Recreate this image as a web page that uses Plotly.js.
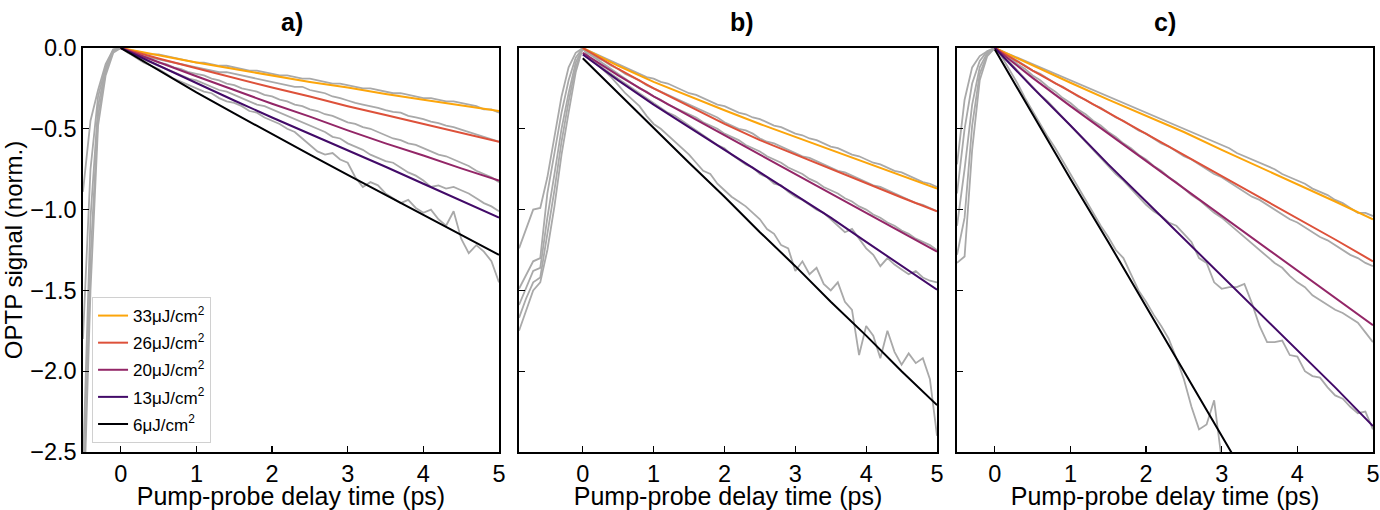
<!DOCTYPE html>
<html>
<head>
<meta charset="utf-8">
<script src="https://cdn.plot.ly/plotly-3.0.1.min.js"></script>
<style>
  html, body { margin: 0; padding: 0; background: #fff; }
</style>
</head>
<body>
<div id="optp" style="width:1380px;height:510px;"></div>
<script>
// pump-probe delay times (ps)
const timeA = [-0.5,-0.4,-0.3,-0.2,-0.1,0,0.1,0.2,0.3,0.4,0.5,0.6,0.7,0.8,0.9,1,1.1,1.2,1.3,1.4,1.5,1.6,1.7,1.8,1.9,2,
  2.1,2.2,2.3,2.4,2.5,2.6,2.7,2.8,2.9,3,3.1,3.2,3.3,3.4,3.5,3.6,3.7,3.8,3.9,4,4.1,4.2,4.3,4.4,4.5,4.6,4.7,4.8,4.9,5];
const timeB = [-0.9,-0.8,-0.7,-0.6,-0.5,-0.4,-0.3,-0.2,-0.1,0,0.1,0.2,0.3,0.4,0.5,0.6,0.7,0.8,0.9,1,1.1,1.2,1.3,1.4,1.5,1.6,1.7,1.8,1.9,2,
  2.1,2.2,2.3,2.4,2.5,2.6,2.7,2.8,2.9,3,3.1,3.2,3.3,3.4,3.5,3.6,3.7,3.8,3.9,4,4.1,4.2,4.3,4.4,4.5,4.6,4.7,4.8,4.9,5];
const timeC = timeA;
const fitTime = [0,0.5,1,1.5,2,2.5,3,3.5,4,4.5,5];

const fluences = ["33μJ/cm<sup>2</sup>", "26μJ/cm<sup>2</sup>", "20μJ/cm<sup>2</sup>", "13μJ/cm<sup>2</sup>", "6μJ/cm<sup>2</sup>"];
const fitColors = ["#fca50a", "#dd513a", "#932667", "#420a68", "#000004"];

// measured traces, panel a
const grayA33 = [-0.89,-0.45,-0.26,-0.10,-0.01,0, -0.01,-0.02,-0.03,-0.04,-0.04, -0.05,-0.06,-0.07,-0.08,-0.09,
  -0.09,-0.10,-0.11,-0.11,-0.12, -0.13,-0.14,-0.14,-0.15,-0.16, -0.17,-0.17,-0.18,-0.19,-0.19, -0.20,-0.21,-0.22,-0.22,-0.23,
  -0.24,-0.25,-0.25,-0.26,-0.27, -0.28,-0.28,-0.29,-0.30,-0.31, -0.31,-0.32,-0.33,-0.33,-0.34, -0.35,-0.36,-0.38,-0.38,-0.40];
const grayA26 = [-1.80,-0.75,-0.30,-0.12,-0.01,0, -0.02,-0.03,-0.05,-0.06,-0.07, -0.08,-0.09,-0.10,-0.11,-0.12,
  -0.13,-0.14,-0.15,-0.15,-0.16, -0.17,-0.18,-0.19,-0.20,-0.21, -0.22,-0.23,-0.24,-0.24,-0.26, -0.27,-0.28,-0.30,-0.31,-0.325,
  -0.34,-0.35,-0.36,-0.37,-0.385, -0.395,-0.40,-0.42,-0.43,-0.44, -0.455,-0.465,-0.48,-0.49,-0.505, -0.52,-0.535,-0.55,-0.565,-0.58];
const grayA20 = [-2.60,-1.05,-0.36,-0.13,-0.02,0, -0.02,-0.04,-0.06,-0.07,-0.09, -0.10,-0.12,-0.13,-0.15,-0.16,
  -0.17,-0.19,-0.20,-0.22,-0.23, -0.25,-0.26,-0.27,-0.29,-0.30, -0.32,-0.33,-0.35,-0.36,-0.38, -0.39,-0.41,-0.42,-0.44,-0.46,
  -0.47,-0.49,-0.50,-0.52,-0.54, -0.56,-0.57,-0.59,-0.60,-0.62, -0.64,-0.66,-0.67,-0.69,-0.71, -0.73,-0.76,-0.78,-0.80,-0.83];
const grayA13 = [-2.90,-1.30,-0.42,-0.15,-0.02,0, -0.03,-0.05,-0.07,-0.09,-0.11, -0.13,-0.15,-0.17,-0.19,-0.20,
  -0.22,-0.24,-0.26,-0.27,-0.29, -0.31,-0.33,-0.35,-0.36,-0.38, -0.40,-0.42,-0.44,-0.46,-0.48, -0.50,-0.52,-0.55,-0.56,-0.59,
  -0.61,-0.63,-0.66,-0.68,-0.70, -0.71,-0.74,-0.77,-0.79,-0.82, -0.86,-0.85,-0.87,-0.86,-0.88, -0.90,-0.93,-0.96,-0.98,-1.01];
const grayA6 = [-3.00,-1.50,-0.48,-0.17,-0.03,0, -0.03,-0.06,-0.09,-0.11,-0.13, -0.16,-0.19,-0.21,-0.23,-0.25,
  -0.27,-0.28,-0.31,-0.33,-0.34, -0.36,-0.39,-0.40,-0.43,-0.45, -0.47,-0.50,-0.52,-0.56,-0.60, -0.64,-0.66,-0.65,-0.69,-0.71,
  -0.80,-0.86,-0.83,-0.85,-0.90, -0.93,-0.96,-0.94,-0.99,-1.02, -1.00,-1.06,-1.10,-1.01,-1.18, -1.27,-1.22,-1.26,-1.32,-1.45];

// measured traces, panel b
const grayB33 = [-1.24,-1.12,-1.00,-0.99,-0.80,-0.55,-0.30,-0.12,-0.03,0, -0.02,-0.04,-0.06,-0.08,-0.10,
  -0.12,-0.14,-0.16,-0.18,-0.19, -0.21,-0.22,-0.24,-0.26,-0.28, -0.29,-0.31,-0.33,-0.35,-0.36, -0.38,-0.40,-0.41,-0.43,-0.44,
  -0.46,-0.48,-0.49,-0.51,-0.53, -0.54,-0.56,-0.57,-0.59,-0.61, -0.62,-0.64,-0.66,-0.67,-0.69, -0.71,-0.72,-0.74,-0.76,-0.77,
  -0.79,-0.81,-0.83,-0.84,-0.86];
const grayB26 = [-1.49,-1.40,-1.32,-1.30,-0.90,-0.65,-0.40,-0.20,-0.06,0, -0.03,-0.06,-0.08,-0.11,-0.13,
  -0.16,-0.18,-0.20,-0.23,-0.25, -0.27,-0.29,-0.31,-0.33,-0.35, -0.37,-0.39,-0.41,-0.43,-0.46, -0.48,-0.50,-0.51,-0.53,-0.56,
  -0.58,-0.59,-0.61,-0.63,-0.65, -0.67,-0.68,-0.70,-0.72,-0.74, -0.76,-0.77,-0.79,-0.81,-0.83, -0.85,-0.86,-0.88,-0.90,-0.92,
  -0.94,-0.96,-0.97,-0.99,-1.01];
const grayB20 = [-1.59,-1.48,-1.38,-1.36,-1.05,-0.78,-0.50,-0.28,-0.09,0, -0.04,-0.07,-0.10,-0.13,-0.16,
  -0.19,-0.22,-0.25,-0.27,-0.30, -0.32,-0.35,-0.37,-0.39,-0.41, -0.43,-0.46,-0.48,-0.50,-0.53, -0.55,-0.57,-0.60,-0.62,-0.64,
  -0.67,-0.69,-0.71,-0.74,-0.76, -0.78,-0.81,-0.83,-0.86,-0.88, -0.90,-0.93,-0.95,-0.98,-1.00, -1.03,-1.05,-1.08,-1.10,-1.13,
  -1.15,-1.18,-1.20,-1.22,-1.25];
const grayB13 = [-1.67,-1.55,-1.45,-1.42,-1.15,-0.88,-0.58,-0.33,-0.12,0, -0.06,-0.09,-0.13,-0.16,-0.19,
  -0.22,-0.25,-0.28,-0.31,-0.34, -0.37,-0.40,-0.42,-0.45,-0.48, -0.51,-0.54,-0.57,-0.60,-0.62, -0.66,-0.69,-0.72,-0.74,-0.78,
  -0.80,-0.84,-0.85,-0.89,-0.92, -0.94,-0.97,-1.00,-1.02,-1.06, -1.10,-1.14,-1.12,-1.18,-1.24, -1.28,-1.35,-1.30,-1.34,-1.37,
  -1.40,-1.38,-1.42,-1.44,-1.45];
const grayB6 = [-1.75,-1.62,-1.50,-1.45,-1.25,-0.98,-0.66,-0.40,-0.15,0, -0.07,-0.10,-0.14,-0.18,-0.23,
  -0.28,-0.32,-0.36,-0.42,-0.47, -0.50,-0.54,-0.58,-0.62,-0.66, -0.71,-0.76,-0.78,-0.84,-0.88, -0.92,-0.95,-0.98,-1.02,-1.06,
  -1.12,-1.15,-1.22,-1.24,-1.38, -1.32,-1.40,-1.36,-1.46,-1.50, -1.45,-1.57,-1.62,-1.90,-1.72, -1.78,-1.92,-1.75,-1.88,-1.96,
  -1.89,-1.95,-1.92,-2.05,-2.40];

// measured traces, panel c
const grayC33 = [-0.72,-0.32,-0.12,-0.05,-0.02,0, -0.02,-0.04,-0.06,-0.08,-0.10, -0.12,-0.14,-0.16,-0.18,-0.20,
  -0.22,-0.24,-0.26,-0.28,-0.30, -0.32,-0.34,-0.36,-0.38,-0.40, -0.42,-0.44,-0.46,-0.48,-0.50, -0.52,-0.54,-0.56,-0.58,-0.60,
  -0.62,-0.65,-0.67,-0.69,-0.71, -0.73,-0.75,-0.78,-0.80,-0.82, -0.84,-0.87,-0.89,-0.91,-0.94, -0.96,-0.99,-1.02,-1.02,-1.04];
const grayC26 = [-0.90,-0.50,-0.22,-0.08,-0.02,0, -0.02,-0.05,-0.08,-0.11,-0.14, -0.16,-0.19,-0.22,-0.24,-0.27,
  -0.30,-0.32,-0.35,-0.37,-0.40, -0.43,-0.45,-0.48,-0.51,-0.53, -0.56,-0.59,-0.61,-0.64,-0.67, -0.69,-0.72,-0.75,-0.78,-0.80,
  -0.83,-0.86,-0.89,-0.92,-0.94, -0.97,-1.00,-1.03,-1.06,-1.08, -1.11,-1.14,-1.17,-1.19,-1.22, -1.25,-1.28,-1.30,-1.33,-1.35];
const grayC20 = [-1.10,-0.75,-0.35,-0.12,-0.03,0, -0.03,-0.06,-0.10,-0.13,-0.17, -0.20,-0.24,-0.27,-0.31,-0.34,
  -0.38,-0.41,-0.45,-0.48,-0.52, -0.55,-0.59,-0.62,-0.66,-0.69, -0.73,-0.76,-0.80,-0.83,-0.87, -0.91,-0.94,-0.98,-1.02,-1.05,
  -1.09,-1.13,-1.17,-1.21,-1.25, -1.29,-1.33,-1.36,-1.41,-1.45, -1.48,-1.53,-1.56,-1.59,-1.62, -1.64,-1.67,-1.70,-1.76,-1.82];
const grayC13 = [-1.28,-1.05,-0.48,-0.16,-0.04,0, -0.04,-0.09,-0.14,-0.19,-0.24, -0.29,-0.33,-0.38,-0.43,-0.48,
  -0.53,-0.58,-0.63,-0.68,-0.73, -0.78,-0.82,-0.87,-0.92,-0.97, -1.01,-1.04,-1.08,-1.10,-1.15, -1.20,-1.30,-1.33,-1.45,-1.49,
  -1.48,-1.48,-1.46,-1.58,-1.72, -1.82,-1.82,-1.81,-1.90,-1.91, -2.00,-2.03,-2.04,-2.10,-2.15, -2.17,-2.22,-2.26,-2.25,-2.36];
const grayC6 = [-1.33,-1.29,-0.63,-0.20,-0.05,0, -0.06,-0.14,-0.22,-0.31,-0.39, -0.47,-0.55,-0.62,-0.70,-0.78,
  -0.86,-0.94,-1.02,-1.10,-1.17, -1.25,-1.30,-1.40,-1.50,-1.57, -1.65,-1.72,-1.80,-1.92,-2.05, -2.22,-2.36,-2.33,-2.18,-2.55,
  -2.70];

// fitted curves (33, 26, 20, 13, 6 µJ/cm²)
const fitA33 = [0,-0.045,-0.09,-0.13,-0.17,-0.21,-0.245,-0.285,-0.32,-0.355,-0.39];
const fitA26 = [0,-0.065,-0.125,-0.185,-0.245,-0.30,-0.36,-0.415,-0.47,-0.525,-0.58];
const fitA20 = [0,-0.09,-0.175,-0.26,-0.345,-0.425,-0.51,-0.59,-0.665,-0.745,-0.82];
const fitA13 = [0,-0.11,-0.22,-0.325,-0.43,-0.53,-0.63,-0.735,-0.84,-0.945,-1.05];
const fitA6 = [0,-0.14,-0.275,-0.405,-0.535,-0.66,-0.785,-0.91,-1.035,-1.16,-1.28];

const fitB33 = [0,-0.11,-0.21,-0.30,-0.385,-0.47,-0.55,-0.63,-0.71,-0.79,-0.87];
const fitB26 = [0,-0.13,-0.25,-0.36,-0.47,-0.57,-0.66,-0.75,-0.84,-0.925,-1.01];
const fitB20 = [-0.03,-0.17,-0.30,-0.42,-0.54,-0.66,-0.78,-0.90,-1.02,-1.14,-1.26];
const fitB13 = [-0.04,-0.20,-0.35,-0.49,-0.63,-0.77,-0.91,-1.05,-1.20,-1.35,-1.495];
const fitB6 = [-0.064,-0.28,-0.49,-0.71,-0.92,-1.14,-1.35,-1.57,-1.78,-2.0,-2.21];

const fitC33 = [0,-0.11,-0.215,-0.32,-0.42,-0.52,-0.63,-0.735,-0.84,-0.95,-1.06];
const fitC26 = [0,-0.14,-0.27,-0.40,-0.53,-0.66,-0.79,-0.92,-1.05,-1.185,-1.32];
const fitC20 = [0,-0.185,-0.36,-0.53,-0.70,-0.87,-1.04,-1.21,-1.38,-1.55,-1.716];
const fitC13 = [0,-0.245,-0.48,-0.72,-0.95,-1.18,-1.41,-1.64,-1.87,-2.10,-2.34];
const fitC6 = [-0.01,-0.41,-0.81,-1.20,-1.60,-2.00,-2.40,-2.80];

const panels = [
  { time: timeA, gray: [grayA33, grayA26, grayA20, grayA13, grayA6], fits: [fitA33, fitA26, fitA20, fitA13, fitA6], xa: "x", ya: "y" },
  { time: timeB, gray: [grayB33, grayB26, grayB20, grayB13, grayB6], fits: [fitB33, fitB26, fitB20, fitB13, fitB6], xa: "x2", ya: "y2" },
  { time: timeC, gray: [grayC33, grayC26, grayC20, grayC13, grayC6], fits: [fitC33, fitC26, fitC20, fitC13, fitC6], xa: "x3", ya: "y3" }
];

const traces = [];

// grey data first so the fits sit on top
panels.forEach(function(p) {
  p.gray.forEach(function(g) {
    traces.push({
      x: p.time.slice(0, g.length),
      y: g,
      xaxis: p.xa,
      yaxis: p.ya,
      mode: "lines",
      line: { color: "#a9a9a9", width: 1.8 },
      hoverinfo: "skip",
      showlegend: false
    });
  });
});

panels.forEach(function(p, k) {
  p.fits.forEach(function(f, i) {
    traces.push({
      x: fitTime.slice(0, f.length),
      y: f,
      xaxis: p.xa,
      yaxis: p.ya,
      mode: "lines",
      name: fluences[i],
      legendgroup: "f" + i,
      line: { color: fitColors[i], width: 2 },
      hoverinfo: "skip",
      showlegend: k === 0
    });
  });
});

const font = "Liberation Sans, Arial, Helvetica, sans-serif";

function xAxis(domain, range) {
  return {
    domain: domain,
    range: range,
    tickvals: [0, 1, 2, 3, 4, 5],
    ticks: "inside",
    ticklen: 6,
    tickwidth: 1.3,
    tickcolor: "#000",
    showline: true,
    mirror: true,
    linecolor: "#000",
    linewidth: 1.6,
    showgrid: false,
    zeroline: false,
    tickfont: { family: font, size: 23.5, color: "#000" },
    title: { text: "Pump-probe delay time (ps)", font: { family: font, size: 25, color: "#000" }, standoff: 5 }
  };
}

function yAxis(labels) {
  return {
    domain: [0.1137, 0.9059],
    range: [-2.5, 0],
    tickvals: [0, -0.5, -1, -1.5, -2, -2.5],
    tickformat: ".1f",
    showticklabels: labels,
    ticks: "inside",
    ticklen: 6,
    tickwidth: 1.3,
    tickcolor: "#000",
    showline: true,
    mirror: true,
    linecolor: "#000",
    linewidth: 1.6,
    showgrid: false,
    zeroline: false,
    tickfont: { family: font, size: 23.5, color: "#000" }
  };
}

const layout = {
  width: 1380,
  height: 510,
  margin: { l: 0, r: 0, t: 0, b: 0, pad: 0 },
  paper_bgcolor: "#fff",
  plot_bgcolor: "#fff",
  font: { family: font, color: "#000" },
  xaxis: xAxis([0.0601, 0.3616], [-0.5, 5]),
  xaxis2: Object.assign(xAxis([0.3761, 0.6790], [-0.9, 5]), { anchor: "y2" }),
  xaxis3: Object.assign(xAxis([0.6935, 0.9949], [-0.5, 5]), { anchor: "y3" }),
  yaxis: Object.assign(yAxis(true), {
    title: { text: "OPTP signal (norm.)", font: { family: font, size: 24, color: "#000" }, standoff: 6 }
  }),
  yaxis2: Object.assign(yAxis(false), { anchor: "x2" }),
  yaxis3: Object.assign(yAxis(false), { anchor: "x3" }),
  showlegend: true,
  legend: {
    x: 0.0667,
    y: 0.4176,
    xanchor: "left",
    yanchor: "top",
    bgcolor: "#fff",
    bordercolor: "#d0d0d0",
    borderwidth: 1,
    tracegroupgap: 2,
    font: { family: font, size: 17, color: "#000" }
  },
  annotations: [
    { text: "<b>a)</b>", x: 292 / 1380, y: 0.957 },
    { text: "<b>b)</b>", x: 742 / 1380, y: 0.957 },
    { text: "<b>c)</b>", x: 1165 / 1380, y: 0.957 }
  ].map(function(a) {
    return Object.assign(a, {
      xref: "paper", yref: "paper", xanchor: "center", yanchor: "middle",
      showarrow: false, font: { family: font, size: 25, color: "#000" }
    });
  })
};

Plotly.newPlot("optp", traces, layout, { displayModeBar: false, staticPlot: true });
</script>
</body>
</html>
